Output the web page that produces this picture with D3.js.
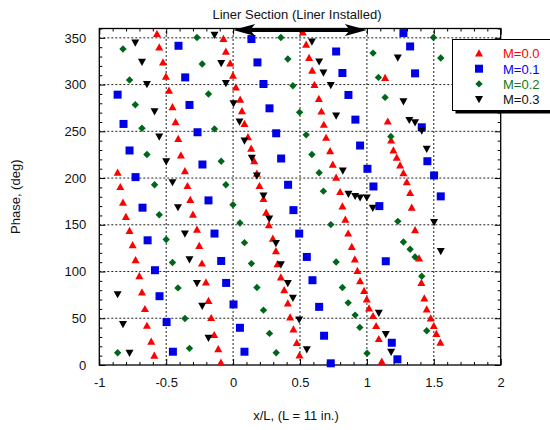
<!DOCTYPE html>
<html>
<head>
<meta charset="utf-8">
<script src="https://cdn.jsdelivr.net/npm/d3@7/dist/d3.min.js"></script>
<style>
  html, body { margin: 0; padding: 0; background: #fff; }
  svg { display: block; font-family: "Liberation Sans", Arial, sans-serif; }
</style>
</head>
<body>
<svg id="chart" width="550" height="430"></svg>
<script>
// ---------------- data ----------------
const seriesNames = ["M=0.0", "M=0.1", "M=0.2", "M=0.3"];
const xTickValues = [-1, -0.5, 0, 0.5, 1, 1.5, 2];
const xTickLabels = ["-1", "-0.5", "0", "0.5", "1", "1.5", "2"];
const yTickValues = [0, 50, 100, 150, 200, 250, 300, 350];
const yTickLabels = ["0", "50", "100", "150", "200", "250", "300", "350"];
const linerRange = [0, 1];
const titleText = "Liner Section (Liner Installed)";
const xTitle = "x/L, (L = 11 in.)";
const yTitle = "Phase, (deg)";

// [x/L, phase]
const m00 = [
  [-0.863,205.6],[-0.843,190.3],[-0.823,173.6],[-0.801,158.3],[-0.774,143.3],[-0.751,128.1],[-0.729,112.1],[-0.701,95.0],[-0.681,77.6],[-0.659,59.8],[-0.644,41.9],[-0.612,24.9],[-0.589,9.9],
  [-0.569,354.0],[-0.552,339.7],[-0.524,323.7],[-0.502,308.4],[-0.479,293.5],[-0.453,275.7],[-0.430,259.7],[-0.410,241.9],[-0.390,224.1],[-0.360,207.4],[-0.341,191.4],[-0.320,176.6],[-0.300,160.8],[-0.270,144.8],[-0.253,127.3],[-0.233,108.5],[-0.203,88.3],[-0.184,68.6],[-0.164,50.2],[-0.141,32.0],[-0.111,16.8],[-0.091,2.5],
  [-0.072,348.7],[-0.054,335.1],[-0.022,322.6],[-0.001,309.5],[0.021,297.0],[0.053,283.9],[0.066,271.4],[0.085,257.9],[0.111,243.6],[0.135,231.3],[0.158,218.0],[0.178,204.6],[0.197,191.4],[0.227,177.5],[0.247,163.0],[0.267,149.4],[0.297,135.2],[0.320,121.7],[0.332,107.8],[0.357,93.6],[0.382,80.0],[0.409,65.8],[0.426,50.9],[0.451,38.1],[0.476,23.5],[0.496,10.1],
  [0.521,355.7],[0.546,342.6],[0.568,328.4],[0.591,314.8],[0.608,299.6],[0.641,284.6],[0.660,271.1],[0.678,256.9],[0.695,243.0],[0.725,228.7],[0.745,214.2],[0.770,200.3],[0.800,185.0],[0.817,169.7],[0.839,155.5],[0.860,140.6],[0.887,126.3],[0.910,112.8],[0.929,100.6],[0.949,89.6],[0.979,79.3],[0.999,70.1],[1.016,60.5],[1.046,52.3],[1.069,41.6],[1.089,27.7],[1.111,3.5],
  [1.136,307.0],[1.156,260.4],[1.181,240.1],[1.198,229.5],[1.223,221.7],[1.248,213.4],[1.273,205.2],[1.298,195.6],[1.323,183.9],[1.335,168.3],[1.360,144.1],[1.390,113.9],[1.407,87.8],[1.429,71.2],[1.447,59.4],[1.477,49.8],[1.500,41.6],[1.519,33.1],[1.549,23.8]
];
const m01 = [
  [-0.863,289.2],[-0.819,257.9],[-0.774,229.5],[-0.729,201.0],[-0.677,168.3],[-0.639,133.4],[-0.584,101.4],[-0.550,73.6],[-0.497,45.9],[-0.450,14.2],
  [-0.408,341.5],[-0.358,307.7],[-0.326,278.2],[-0.266,249.0],[-0.229,214.5],[-0.184,176.1],[-0.139,140.6],[-0.089,111.3],[-0.052,87.8],[0.003,64.8],[0.051,39.8],[0.085,14.2],
  [0.137,348.7],[0.182,323.7],[0.227,300.6],[0.272,274.6],[0.322,247.9],[0.359,220.9],[0.411,192.8],[0.451,165.7],[0.494,140.6],[0.551,115.6],[0.593,90.7],[0.643,62.2],[0.680,31.3],[0.730,1.8],
  [0.770,335.4],[0.817,312.4],[0.862,288.9],[0.914,262.5],[0.949,234.8],[1.004,209.9],[1.049,191.0],[1.093,170.0],[1.141,111.0],[1.186,23.8],[1.228,6.1],
  [1.273,355.1],[1.323,340.8],[1.360,312.0],[1.410,254.3],[1.452,218.0],[1.502,202.8],[1.552,180.4]
];
const m02 = [
  [-0.863,13.1],
  [-0.823,338.0],[-0.774,304.9],[-0.731,278.5],[-0.681,253.3],[-0.644,225.2],[-0.587,192.8],[-0.552,160.8],[-0.500,134.2],[-0.453,109.6],[-0.412,82.5],[-0.360,49.8],[-0.326,17.8],
  [-0.270,350.4],[-0.231,322.0],[-0.184,290.0],[-0.139,252.6],[-0.089,218.0],[-0.054,192.8],[-0.001,171.5],[0.051,151.9],[0.085,130.9],[0.137,108.5],[0.178,82.9],[0.227,58.7],[0.272,33.8],[0.322,13.1],
  [0.357,350.4],[0.409,327.3],[0.447,298.8],[0.497,270.3],[0.546,246.2],[0.589,225.2],[0.643,205.7],[0.675,186.0],[0.730,150.2],[0.770,110.2],[0.817,82.9],[0.860,66.5],[0.912,53.4],[0.947,40.2],[1.001,12.5],
  [1.046,333.7],[1.086,307.7],[1.136,286.3],[1.179,244.4],[1.231,153.7],[1.273,131.6],[1.323,123.8],[1.360,115.6],[1.410,95.0],[1.447,36.6],
  [1.497,350.4],[1.552,328.4]
];
const m03 = [
  [-0.863,75.8],[-0.823,43.8],[-0.774,13.1],
  [-0.731,345.0],[-0.681,324.4],[-0.644,300.6],[-0.587,271.4],[-0.552,244.4],[-0.500,218.0],[-0.453,195.6],[-0.412,168.9],[-0.360,140.6],[-0.326,113.1],[-0.270,87.8],[-0.231,63.3],[-0.184,29.1],
  [-0.139,353.3],[-0.089,323.1],[-0.054,301.7],[0.003,279.9],[0.048,260.4],[0.085,240.1],[0.140,221.7],[0.178,202.8],[0.227,181.4],[0.270,156.6],[0.320,130.5],[0.357,107.8],[0.409,87.8],[0.447,72.0],[0.494,48.8],[0.551,16.8],
  [0.589,346.1],[0.643,324.8],[0.675,313.0],[0.730,299.6],[0.770,266.8],[0.820,208.1],[0.862,183.2],[0.912,180.9],[0.949,179.3],[0.999,179.3],[1.044,168.3],[1.089,55.8],[1.141,33.1],[1.181,14.2],
  [1.231,329.0],[1.273,282.1],[1.317,262.2],[1.360,259.7],[1.410,250.8],[1.447,231.3],[1.502,152.9],[1.552,122.0]
];
const seriesData = [m00, m01, m02, m03];

// ---------------- styles ----------------
const markerColors = ["#ff0000", "#0000e6", "#00661a", "#000000"];
const textColors = ["#ff0000", "#0000ff", "#117a22", "#111111"];
const markerPaths = [
  "M0,-4.2L4,3L-4,3Z",          // triangle up
  "M-4,-4L4,-4L4,4L-4,4Z",       // square
  "M0,-3.7L3.7,0L0,3.7L-3.7,0Z", // diamond
  "M-4,-3L4,-3L0,4.2Z"           // triangle down
];

const svg = d3.select("#chart");
const x = d3.scaleLinear().domain([-1, 2]).range([99.3, 500.7]);
const y = d3.scaleLinear().domain([0, 360]).range([365, 28.5]);
const fontFam = '"Liberation Sans", Arial, sans-serif';

// grid
const g = svg.append("g");
g.selectAll("line.gx").data(xTickValues.filter(v => v > -1 && v < 2)).enter()
  .append("line").attr("x1", d => x(d)).attr("x2", d => x(d))
  .attr("y1", y(0)).attr("y2", y(360))
  .attr("stroke", "#222").attr("stroke-width", 1).attr("stroke-dasharray", "2,2");
g.selectAll("line.gy").data(yTickValues.filter(v => v > 0)).enter()
  .append("line").attr("x1", x(-1)).attr("x2", x(2))
  .attr("y1", d => y(d)).attr("y2", d => y(d))
  .attr("stroke", "#222").attr("stroke-width", 1).attr("stroke-dasharray", "2,2");

// axes with inward ticks
const minorX = d3.range(-10, 21).map(i => i / 10).filter(v => !xTickValues.some(t => Math.abs(t - v) < 1e-9));
const minorY = d3.range(0, 361, 10).filter(v => v % 50 !== 0);

function styleAxis(sel) {
  sel.select(".domain").remove();
  sel.selectAll("line").attr("stroke", "#000");
  sel.selectAll("text").attr("font-family", fontFam).attr("font-size", 13).attr("fill", "#111");
}
const bottom = svg.append("g").attr("transform", `translate(0,${y(0)})`)
  .call(d3.axisBottom(x).tickValues(xTickValues).tickFormat((d, i) => xTickLabels[i]).tickSizeInner(-6).tickSizeOuter(0).tickPadding(13));
styleAxis(bottom);
bottom.selectAll("text").attr("dy", "0.71em");
svg.append("g").attr("transform", `translate(0,${y(0)})`)
  .call(d3.axisBottom(x).tickValues(minorX).tickFormat("").tickSizeInner(-3).tickSizeOuter(0)).call(styleAxis);
svg.append("g").attr("transform", `translate(0,${y(360)})`)
  .call(d3.axisTop(x).tickValues(xTickValues).tickFormat("").tickSizeInner(-6).tickSizeOuter(0)).call(styleAxis);
svg.append("g").attr("transform", `translate(0,${y(360)})`)
  .call(d3.axisTop(x).tickValues(minorX).tickFormat("").tickSizeInner(-3).tickSizeOuter(0)).call(styleAxis);

const left = svg.append("g").attr("transform", `translate(${x(-1)},0)`)
  .call(d3.axisLeft(y).tickValues(yTickValues).tickFormat((d, i) => yTickLabels[i]).tickSizeInner(-6).tickSizeOuter(0).tickPadding(13));
styleAxis(left);
svg.append("g").attr("transform", `translate(${x(-1)},0)`)
  .call(d3.axisLeft(y).tickValues(minorY).tickFormat("").tickSizeInner(-3).tickSizeOuter(0)).call(styleAxis);
svg.append("g").attr("transform", `translate(${x(2)},0)`)
  .call(d3.axisRight(y).tickValues(yTickValues).tickFormat("").tickSizeInner(-6).tickSizeOuter(0)).call(styleAxis);
svg.append("g").attr("transform", `translate(${x(2)},0)`)
  .call(d3.axisRight(y).tickValues(minorY).tickFormat("").tickSizeInner(-3).tickSizeOuter(0)).call(styleAxis);

// frame
svg.append("rect").attr("x", x(-1)).attr("y", y(360))
  .attr("width", x(2) - x(-1)).attr("height", y(0) - y(360))
  .attr("fill", "none").attr("stroke", "#000").attr("stroke-width", 1.3);

// markers
seriesData.forEach((data, si) => {
  svg.append("g").selectAll("path").data(data).enter().append("path")
    .attr("d", markerPaths[si])
    .attr("transform", d => `translate(${x(d[0])},${y(d[1])})`)
    .attr("fill", markerColors[si]);
});

// liner section arrow
const ay = y(360) + 1.5;
const ax0 = x(linerRange[0]), ax1 = x(linerRange[1]);
svg.append("line").attr("x1", ax0 + 12).attr("x2", ax1 - 12).attr("y1", ay).attr("y2", ay)
  .attr("stroke", "#000").attr("stroke-width", 4);
svg.append("path").attr("d", `M${ax0},${ay}L${ax0 + 22},${ay - 6}L${ax0 + 17},${ay}L${ax0 + 22},${ay + 6}Z`).attr("fill", "#000");
svg.append("path").attr("d", `M${ax1},${ay}L${ax1 - 22},${ay - 6}L${ax1 - 17},${ay}L${ax1 - 22},${ay + 6}Z`).attr("fill", "#000");
svg.append("text").attr("x", (ax0 + ax1) / 2 - 3).attr("y", 18.5)
  .attr("text-anchor", "middle").attr("font-family", fontFam).attr("font-size", 13).attr("fill", "#111")
  .text(titleText);

// axis titles
svg.append("text").attr("x", 296).attr("y", 420)
  .attr("text-anchor", "middle").attr("font-family", fontFam).attr("font-size", 13).attr("fill", "#111")
  .text(xTitle);
svg.append("text").attr("transform", `translate(20,${(y(0) + y(360)) / 2}) rotate(-90)`)
  .attr("text-anchor", "middle").attr("font-family", fontFam).attr("font-size", 13).attr("fill", "#111")
  .text(yTitle);

// legend
const lg = svg.append("g");
lg.append("rect").attr("x", 455.5).attr("y", 42.5).attr("width", 100).attr("height", 71).attr("fill", "#000");
lg.append("rect").attr("x", 452.5).attr("y", 39.5).attr("width", 100).attr("height", 71)
  .attr("fill", "#fff").attr("stroke", "#000").attr("stroke-width", 1);
seriesNames.forEach((name, i) => {
  const ry = 53.5 + i * 15.2;
  lg.append("path").attr("d", markerPaths[i]).attr("transform", `translate(479,${ry})`).attr("fill", markerColors[i]);
  lg.append("text").attr("x", 503).attr("y", ry + 4.8)
    .attr("font-family", fontFam).attr("font-size", 13).attr("fill", textColors[i]).text(name);
});
</script>
</body>
</html>
